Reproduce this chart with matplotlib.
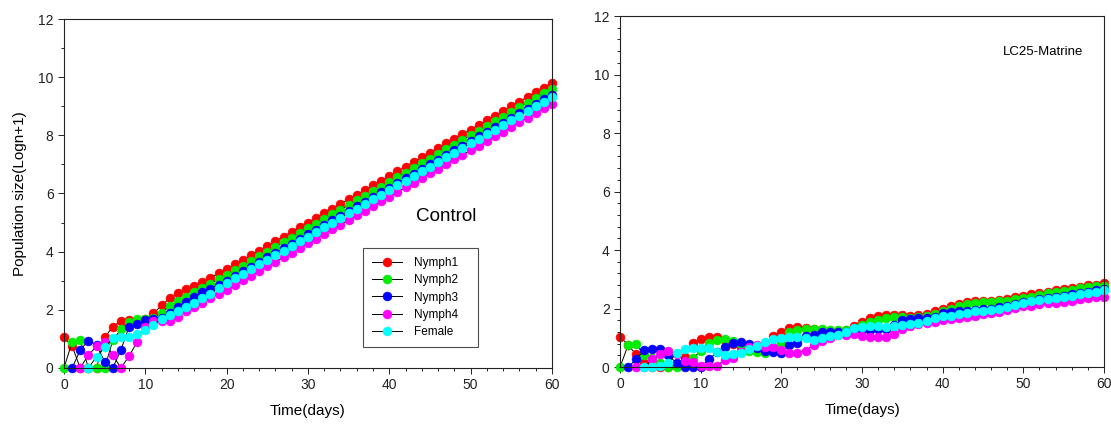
import numpy as np
import matplotlib
matplotlib.use("Agg")
import matplotlib.pyplot as plt
from matplotlib.ticker import MultipleLocator

plt.rcParams["font.family"] = ["Liberation Sans", "DejaVu Sans"]

days = list(range(61))
series_names = ["Nymph1", "Nymph2", "Nymph3", "Nymph4", "Female"]
series_colors = ["#ff0000", "#00ee00", "#0000ff", "#ff00ff", "#00ffff"]
nan = float("nan")

# Control
control_nymph1 = [1.05, 0.75, 0, 0, 0, 1.05, 1.42, 1.62, 1.65, 1.65,
                  1.70, 1.88, 2.15, 2.40, 2.57, 2.70, 2.82, 2.95, 3.10, 3.25,
                  3.40, 3.56, 3.72, 3.88, 4.04, 4.20, 4.36, 4.52, 4.68, 4.84,
                  5.00, 5.16, 5.32, 5.48, 5.64, 5.80, 5.96, 6.12, 6.28, 6.44,
                  6.60, 6.76, 6.92, 7.08, 7.24, 7.40, 7.56, 7.72, 7.88, 8.04,
                  8.20, 8.36, 8.52, 8.68, 8.84, 9.00, 9.16, 9.32, 9.48, 9.64,
                  9.80]
control_nymph2 = [0, 0.90, 0.96, 0, 0, 0, 0.95, 1.33, 1.58, 1.67,
                  1.68, 1.72, 1.90, 2.12, 2.30, 2.45, 2.60, 2.75, 2.90, 3.05,
                  3.20, 3.36, 3.52, 3.68, 3.84, 4.00, 4.16, 4.32, 4.48, 4.64,
                  4.80, 4.96, 5.12, 5.28, 5.44, 5.60, 5.76, 5.92, 6.08, 6.24,
                  6.40, 6.56, 6.72, 6.88, 7.04, 7.20, 7.36, 7.52, 7.68, 7.84,
                  8.00, 8.16, 8.32, 8.48, 8.64, 8.80, 8.96, 9.12, 9.28, 9.44,
                  9.60]
control_nymph3 = [nan, 0, 0.62, 0.94, 0.79, 0.22, 0, 0.62, 1.42, 1.50,
                  1.65, 1.70, 1.72, 1.90, 2.10, 2.28, 2.45, 2.60, 2.73, 2.86,
                  3.00, 3.16, 3.32, 3.48, 3.64, 3.80, 3.96, 4.12, 4.28, 4.44,
                  4.60, 4.76, 4.92, 5.08, 5.24, 5.40, 5.56, 5.72, 5.88, 6.04,
                  6.20, 6.36, 6.52, 6.68, 6.84, 7.00, 7.16, 7.32, 7.48, 7.64,
                  7.80, 7.96, 8.12, 8.28, 8.44, 8.60, 8.76, 8.92, 9.08, 9.24,
                  9.40]
control_nymph4 = [nan, nan, 0, 0.45, 0.74, 0.90, 0.45, 0, 0.41, 0.90,
                  1.40, 1.60, 1.60, 1.62, 1.75, 1.95, 2.10, 2.25, 2.40, 2.55,
                  2.69, 2.85, 3.01, 3.17, 3.33, 3.49, 3.65, 3.81, 3.97, 4.13,
                  4.29, 4.45, 4.61, 4.77, 4.93, 5.09, 5.25, 5.41, 5.57, 5.73,
                  5.89, 6.05, 6.21, 6.37, 6.53, 6.69, 6.85, 7.01, 7.17, 7.33,
                  7.49, 7.65, 7.81, 7.97, 8.13, 8.29, 8.45, 8.61, 8.77, 8.93,
                  9.09]
control_female = [nan, nan, nan, 0, 0.39, 0.71, 1.02, 1.05, 1.05, 1.17,
                  1.30, 1.47, 1.70, 1.82, 1.96, 2.10, 2.25, 2.40, 2.55, 2.75,
                  2.92, 3.08, 3.24, 3.40, 3.56, 3.72, 3.88, 4.04, 4.20, 4.36,
                  4.52, 4.68, 4.84, 5.00, 5.16, 5.32, 5.48, 5.64, 5.80, 5.96,
                  6.12, 6.28, 6.44, 6.60, 6.76, 6.92, 7.08, 7.24, 7.40, 7.56,
                  7.72, 7.88, 8.04, 8.20, 8.36, 8.52, 8.68, 8.84, 9.00, 9.16,
                  9.32]

# LC25-Matrine
matrine_nymph1 = [1.04, 0.75, 0.43, 0.13, 0, 0, 0, 0.05, 0.33, 0.83,
                  0.95, 1.04, 1.04, 0.93, 0.80, 0.68, 0.60, 0.55, 0.60, 1.06,
                  1.21, 1.33, 1.38, 1.35, 1.30, 1.25, 1.20, 1.20, 1.25, 1.40,
                  1.55, 1.67, 1.75, 1.78, 1.78, 1.78, 1.76, 1.78, 1.82, 1.90,
                  1.98, 2.07, 2.16, 2.21, 2.24, 2.25, 2.27, 2.30, 2.32, 2.38,
                  2.43, 2.50, 2.54, 2.58, 2.62, 2.66, 2.70, 2.75, 2.79, 2.82,
                  2.87]
matrine_nymph2 = [0, 0.75, 0.78, 0.40, 0.30, 0.13, 0, 0, 0.07, 0.30,
                  0.55, 0.83, 0.93, 0.96, 0.90, 0.80, 0.55, 0.50, 0.49, 0.60,
                  0.83, 1.18, 1.25, 1.29, 1.30, 1.30, 1.28, 1.25, 1.25, 1.30,
                  1.45, 1.55, 1.61, 1.67, 1.70, 1.70, 1.67, 1.70, 1.73, 1.82,
                  1.90, 1.98, 2.09, 2.15, 2.18, 2.21, 2.22, 2.26, 2.27, 2.31,
                  2.35, 2.41, 2.46, 2.52, 2.55, 2.59, 2.64, 2.69, 2.72, 2.76,
                  2.78]
matrine_nymph3 = [nan, 0, 0.26, 0.58, 0.60, 0.60, 0.41, 0.13, 0, 0,
                  0, 0.26, 0.50, 0.70, 0.83, 0.87, 0.80, 0.65, 0.55, 0.53,
                  0.49, 0.75, 0.82, 1.05, 1.10, 1.18, 1.21, 1.21, 1.20, 1.22,
                  1.25, 1.27, 1.29, 1.30, 1.45, 1.61, 1.65, 1.66, 1.66, 1.70,
                  1.84, 1.87, 1.90, 1.93, 1.96, 1.99, 2.00, 2.06, 2.10, 2.14,
                  2.22, 2.27, 2.32, 2.36, 2.38, 2.44, 2.48, 2.52, 2.56, 2.62,
                  2.66]
matrine_nymph4 = [nan, nan, 0, 0, 0.26, 0.45, 0.55, 0.45, 0.20, 0.18,
                  0.05, 0.05, 0.05, 0.24, 0.30, 0.50, 0.70, 0.75, 0.70, 0.70,
                  0.58, 0.49, 0.49, 0.56, 0.75, 0.90, 1.00, 1.10, 1.10, 1.12,
                  1.06, 1.04, 1.04, 1.04, 1.13, 1.29, 1.40, 1.47, 1.52, 1.55,
                  1.61, 1.63, 1.67, 1.71, 1.75, 1.82, 1.86, 1.89, 1.95, 2.01,
                  2.07, 2.09, 2.15, 2.18, 2.20, 2.23, 2.27, 2.32, 2.35, 2.39,
                  2.41]
matrine_female = [nan, nan, nan, 0, 0, 0.05, 0.13, 0.49, 0.62, 0.64,
                  0.64, 0.64, 0.53, 0.41, 0.45, 0.47, 0.60, 0.72, 0.87, 0.95,
                  0.98, 1.02, 1.02, 0.98, 0.94, 0.98, 1.06, 1.10, 1.18, 1.33,
                  1.36, 1.40, 1.40, 1.38, 1.41, 1.44, 1.46, 1.50, 1.59, 1.67,
                  1.75, 1.75, 1.82, 1.86, 1.90, 1.93, 1.95, 2.00, 2.06, 2.11,
                  2.18, 2.24, 2.29, 2.33, 2.35, 2.41, 2.44, 2.49, 2.53, 2.58,
                  2.62]

control = [control_nymph1, control_nymph2, control_nymph3, control_nymph4, control_female]
matrine = [matrine_nymph1, matrine_nymph2, matrine_nymph3, matrine_nymph4, matrine_female]

fig = plt.figure(figsize=(11.11, 4.28), dpi=100)
ax1 = fig.add_axes([0.0576, 0.1402, 0.4392, 0.8154])
ax2 = fig.add_axes([0.5581, 0.1425, 0.4356, 0.8200])


def draw_panel(ax, data, y_minor):
    for name, color, vals in zip(series_names, series_colors, data):
        ax.plot(days, vals, color="black", lw=0.7, marker="o", ms=6.4,
                mfc=color, mec=color, mew=0.4, label=name, clip_on=False)
    ax.set_xlim(0, 60)
    ax.set_ylim(0, 12)
    ax.xaxis.set_major_locator(MultipleLocator(10))
    ax.xaxis.set_minor_locator(MultipleLocator(2))
    ax.yaxis.set_major_locator(MultipleLocator(2))
    ax.yaxis.set_minor_locator(MultipleLocator(y_minor))
    ax.tick_params(which="major", direction="out", length=4.5, width=0.7,
                   labelsize=10, pad=3, colors="#222222")
    ax.tick_params(which="minor", direction="out", length=2.5, width=0.6)
    for sp in ax.spines.values():
        sp.set_linewidth(0.8)
        sp.set_color("#222222")
    ax.set_xlabel("Time(days)", fontsize=11, labelpad=8)


draw_panel(ax1, control, 1)
draw_panel(ax2, matrine, 0.4)

ax1.set_ylabel("Population size(Logn+1)", fontsize=11, labelpad=8)
ax1.text(43.3, 5.2, "Control", fontsize=13.6, va="center", ha="left")
ax2.text(47.5, 10.77, "LC25-Matrine", fontsize=9.5, va="center", ha="left")

leg = ax1.legend(loc="lower left", bbox_to_anchor=(0.6127, 0.060, 0.2357, 0.275),
                 mode="expand", borderaxespad=0, fontsize=8.5, frameon=True,
                 fancybox=False, handlelength=2.55, handletextpad=1.0,
                 borderpad=0.75, labelspacing=0.45)
leg.get_frame().set_edgecolor("#222222")
leg.get_frame().set_linewidth(0.8)

fig.savefig("out.png", dpi=100)
